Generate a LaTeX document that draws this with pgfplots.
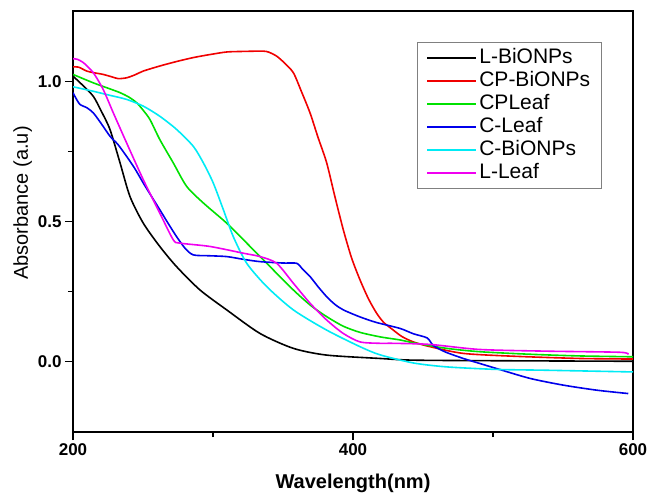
\documentclass[border=0pt]{standalone}
\usepackage{pgfplots}
\pgfplotsset{compat=1.18}
\usepackage{fontspec}
\setmainfont{Liberation Sans}
\definecolor{cgreen}{RGB}{0,225,0}
\definecolor{cblue}{RGB}{0,0,235}
\definecolor{ccyan}{RGB}{0,235,245}
\definecolor{cmag}{RGB}{240,0,240}
\definecolor{cred}{RGB}{240,0,0}
\begin{document}
\begin{tikzpicture}
\begin{axis}[
  scale only axis,
  width=560pt, height=421pt,
  xmin=200, xmax=600, ymin=-0.25, ymax=1.25,
  xtick={200,400,600}, minor xtick={300,500},
  ytick={0,0.5,1.0}, minor ytick={0.25,0.75},
  tick pos=left, tick align=outside,
  major tick length=8pt, minor tick length=5pt,
  axis line style={line width=1.8pt},
  every tick/.style={black, line width=1.3pt},
  /pgf/number format/assume math mode=true,
  ticklabel style={font=\fontsize{17}{17}\selectfont\bfseries},
  yticklabel style={/pgf/number format/.cd, fixed, fixed zerofill, precision=1},
  xticklabel style={/pgf/number format/.cd, fixed, precision=0},
  xlabel={\bfseries Wavelength(nm)},
  ylabel={Absorbance (a.u)},
  xlabel style={font=\fontsize{20}{20}\selectfont, at={(axis description cs:0.5,-0.121)}, anchor=center},
  ylabel style={font=\fontsize{20}{20}\selectfont, at={(axis description cs:-0.09,0.544)}, anchor=center},
  legend image code/.code={\draw[#1] (0pt,0pt) -- (49pt,0pt);},
  legend cell align=left,
  legend style={at={(axis description cs:0.9446,0.9264)}, anchor=north east,
    draw=gray, line width=0.6pt, font=\fontsize{21}{21}\selectfont,
    inner xsep=9pt, inner ysep=4pt,
    nodes={text height=15pt, text depth=3pt, inner sep=2.5pt}},
  every axis plot/.append style={line width=1.6pt, smooth, tension=0.45},
]
\addplot[black] coordinates {
(200,1.018) (207,0.985) (214.5,0.946) (220,0.895) (226.4,0.828) (233.6,0.709) (240.7,0.589)
(250.2,0.494) (262,0.411) (274,0.339) (290.7,0.256) (309.8,0.185) (333.6,0.101)
(357.4,0.048) (381.2,0.024) (419.3,0.012) (443,0.006) (500,0.004) (600,0.002)};
\addlegendentry{L-BiONPs}
\addplot[cred] coordinates {
(200,1.051) (204,1.050) (209.8,1.036) (215,1.030) (221.6,1.024) (228,1.015) (232.4,1.009)
(238.3,1.012) (244,1.022) (250.2,1.036) (262,1.054) (274,1.070) (285.9,1.084) (298,1.095)
(309.8,1.104) (322,1.106) (335.9,1.107) (340,1.103) (345.5,1.089) (351,1.065) (357.4,1.030)
(363,0.965) (369.3,0.887) (375,0.800) (381.2,0.709) (387,0.590) (393.1,0.470) (399,0.370)
(405,0.292) (411,0.225) (416.9,0.173) (422,0.140) (428.8,0.113) (435,0.090) (443.1,0.071)
(455,0.054) (478.8,0.030) (514.5,0.020) (562,0.012) (600,0.010)};
\addlegendentry{CP-BiONPs}
\addplot[cgreen] coordinates {
(200,1.024) (214.5,0.994) (225,0.975) (233.6,0.959) (240,0.943) (245.5,0.923) (250,0.897)
(255,0.863) (262,0.792) (271.6,0.709) (281.2,0.625) (293.1,0.566) (309.8,0.494) (324.1,0.423)
(338.4,0.351) (357.4,0.256) (370,0.200) (381.2,0.161) (393,0.127) (405,0.105) (419.3,0.089)
(433.6,0.078) (443.1,0.068) (466.9,0.048) (490.7,0.036) (526.4,0.027) (562,0.021) (600,0.018)};
\addlegendentry{CPLeaf}
\addplot[cblue] coordinates {
(200,0.959) (202,0.940) (205,0.917) (210,0.905) (214.5,0.887) (220,0.850) (226.4,0.804)
(232,0.775) (238.3,0.732) (244,0.690) (250.2,0.637) (256,0.590) (262,0.542) (268,0.493)
(274,0.446) (280,0.405) (285.9,0.381) (297,0.378) (309.8,0.375) (322,0.365) (333.6,0.357)
(350,0.352) (359.8,0.351) (364,0.330) (369.3,0.304) (375,0.268) (381.2,0.232) (387,0.205)
(393.1,0.185) (405,0.160) (416.9,0.140) (433.6,0.119) (443.1,0.100) (453,0.085) (457.4,0.058)
(466,0.035) (478.8,0.012) (490,-0.005) (502.6,-0.024) (526.4,-0.059) (550.2,-0.083)
(574.1,-0.101) (596.6,-0.113)};
\addlegendentry{C-Leaf}
\addplot[ccyan] coordinates {
(200,0.980) (214.5,0.964) (226,0.950) (238.3,0.935) (250.2,0.911) (262,0.875) (274,0.828)
(285.9,0.768) (293.1,0.709) (300.2,0.637) (307.4,0.542) (314.5,0.446) (324.1,0.351)
(338.4,0.268) (357.4,0.185) (381.2,0.113) (405,0.054) (419.3,0.025) (443.1,-0.004)
(466.9,-0.018) (502.6,-0.027) (538.4,-0.030) (600,-0.036)};
\addlegendentry{C-BiONPs}
\addplot[cmag] coordinates {
(200,1.080) (203,1.078) (207.4,1.066) (214.5,1.030) (221.6,0.970) (228.8,0.887) (238.3,0.780)
(250.2,0.649) (262,0.530) (271.6,0.435) (276.4,0.423) (297.9,0.411) (321.7,0.387)
(333.6,0.375) (345.5,0.351) (357.4,0.280) (369.3,0.209) (381.2,0.149) (393.1,0.101)
(405,0.071) (419.3,0.066) (428.8,0.066) (455,0.062) (490.7,0.044) (538.4,0.038)
(590.7,0.034) (596.6,0.026)};
\addlegendentry{L-Leaf}
\end{axis}
\pgfresetboundingbox
\path ([shift={(-73pt,-60pt)}]current axis.south west) rectangle ([shift={(16pt,11pt)}]current axis.north east);
\end{tikzpicture}
\end{document}
